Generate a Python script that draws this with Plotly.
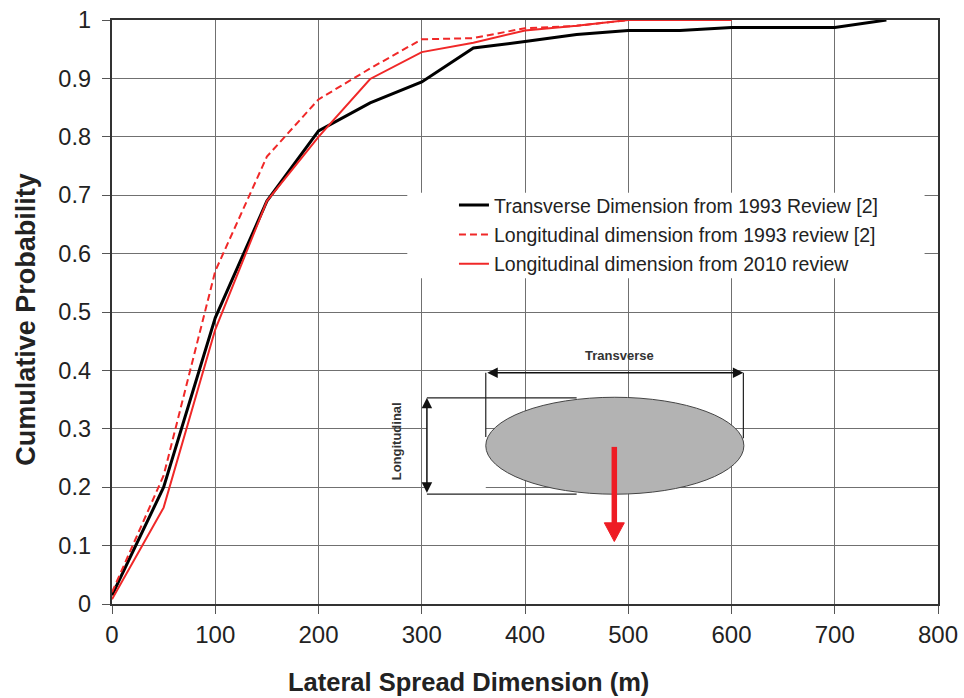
import plotly.graph_objects as go

# ---------------- data ----------------
x_transverse_1993 = [0, 50, 100, 150, 200, 250, 300, 350, 400, 450, 500, 550, 600, 650, 700, 750]
p_transverse_1993 = [0.015, 0.20, 0.49, 0.69, 0.81, 0.858, 0.894, 0.952, 0.963, 0.975, 0.982, 0.982, 0.987, 0.987, 0.987, 1.0]

x_longitudinal_1993 = [0, 50, 100, 150, 200, 250, 300, 350, 400, 450, 500, 550, 600]
p_longitudinal_1993 = [0.02, 0.22, 0.57, 0.766, 0.864, 0.917, 0.967, 0.969, 0.986, 0.99, 1.0, 1.0, 1.0]

x_longitudinal_2010 = [0, 50, 100, 150, 200, 250, 300, 350, 400, 450, 500, 550, 600]
p_longitudinal_2010 = [0.008, 0.165, 0.47, 0.69, 0.80, 0.899, 0.945, 0.961, 0.982, 0.99, 1.0, 1.0, 1.0]

series_names = [
    "Transverse Dimension from 1993 Review [2]",
    "Longitudinal dimension from 1993 review [2]",
    "Longitudinal dimension from 2010 review",
]

x_ticks = [0, 100, 200, 300, 400, 500, 600, 700, 800]
y_ticks = [0, 0.1, 0.2, 0.3, 0.4, 0.5, 0.6, 0.7, 0.8, 0.9, 1]
y_tick_labels = ["0", "0.1", "0.2", "0.3", "0.4", "0.5", "0.6", "0.7", "0.8", "0.9", "1"]

RED = "#f02828"
FONT = "Liberation Sans, Arial, sans-serif"

fig = go.Figure()

fig.add_trace(go.Scatter(
    x=x_transverse_1993, y=p_transverse_1993, mode="lines", name=series_names[0],
    line=dict(color="black", width=3), legendgroup="a"))
fig.add_trace(go.Scatter(
    x=x_longitudinal_1993, y=p_longitudinal_1993, mode="lines", name=series_names[1],
    line=dict(color=RED, width=2, dash="7px,4px"), legendgroup="b"))
fig.add_trace(go.Scatter(
    x=x_longitudinal_2010, y=p_longitudinal_2010, mode="lines", name=series_names[2],
    line=dict(color=RED, width=2), legendgroup="c"))

shapes = []
# white legend background covering grid
shapes.append(dict(type="rect", xref="x", yref="y", x0=286, x1=787, y0=0.558, y1=0.704,
                   fillcolor="white", line=dict(width=0), layer="between"))
# white behind the longitudinal bracket
shapes.append(dict(type="rect", xref="x", yref="y", x0=305, x1=362, y0=0.188, y1=0.353,
                   fillcolor="white", line=dict(width=0), layer="between"))
# ellipse (spread area)
shapes.append(dict(type="circle", xref="x", yref="y", x0=362, x1=612, y0=0.188, y1=0.354,
                   fillcolor="#b3b3b3", line=dict(color="#444", width=1), layer="above"))
# transverse bracket verticals
shapes.append(dict(type="line", xref="x", yref="y", x0=362, x1=362, y0=0.396, y1=0.286,
                   line=dict(color="#222", width=1.2), layer="above"))
shapes.append(dict(type="line", xref="x", yref="y", x0=611.5, x1=611.5, y0=0.396, y1=0.284,
                   line=dict(color="#222", width=1.2), layer="above"))
# longitudinal bracket horizontals
shapes.append(dict(type="line", xref="x", yref="y", x0=305, x1=450, y0=0.353, y1=0.353,
                   line=dict(color="#222", width=1.2), layer="above"))
shapes.append(dict(type="line", xref="x", yref="y", x0=305, x1=450, y0=0.188, y1=0.188,
                   line=dict(color="#222", width=1.2), layer="above"))
# red movement arrow
shapes.append(dict(type="line", xref="x", yref="y", x0=486.5, x1=486.5, y0=0.269, y1=0.135,
                   line=dict(color="#ee1c24", width=5.5), layer="above"))
shapes.append(dict(type="path", xref="x", yref="y",
                   path="M 476.8,0.139 L 496.2,0.139 L 486.5,0.107 Z",
                   fillcolor="#ee1c24", line=dict(color="#ee1c24", width=1), layer="above"))

annotations = [
    # transverse double arrow
    dict(x=611.5, y=0.396, ax=362, ay=0.396, xref="x", yref="y", axref="x", ayref="y",
         text="", showarrow=True, arrowhead=2, arrowside="end+start", arrowsize=1.4,
         arrowwidth=1.5, arrowcolor="#111"),
    # longitudinal double arrow
    dict(x=305, y=0.353, ax=305, ay=0.188, xref="x", yref="y", axref="x", ayref="y",
         text="", showarrow=True, arrowhead=2, arrowside="end+start", arrowsize=1.4,
         arrowwidth=1.5, arrowcolor="#111"),
    dict(x=492, y=0.426, xref="x", yref="y", text="<b>Transverse</b>", showarrow=False,
         font=dict(family=FONT, size=13, color="#333")),
    dict(x=275.7, y=0.278, xref="x", yref="y", text="<b>Longitudinal</b>", showarrow=False,
         textangle=-90, font=dict(family=FONT, size=13, color="#333")),
    # axis titles
    dict(x=0.431, y=-0.133, xref="paper", yref="paper", yanchor="middle",
         text="<b>Lateral Spread Dimension (m)</b>", showarrow=False,
         font=dict(family=FONT, size=25.5, color="#222")),
    dict(x=-0.105, y=0.487, xref="paper", yref="paper", xanchor="center",
         text="<b>Cumulative Probability</b>", showarrow=False, textangle=-90,
         font=dict(family=FONT, size=27, color="#222")),
]

fig.update_layout(
    width=964, height=698,
    margin=dict(l=112, r=26, t=20, b=94),
    paper_bgcolor="white", plot_bgcolor="white",
    font=dict(family=FONT, color="#222"),
    shapes=shapes, annotations=annotations,
    showlegend=True,
    legend=dict(x=0.414, y=0.716, xanchor="left", yanchor="top",
                bgcolor="rgba(0,0,0,0)", borderwidth=0,
                font=dict(family=FONT, size=19.5, color="#222"),
                tracegroupgap=1),
)

fig.update_xaxes(
    range=[0, 800], tickvals=x_ticks, ticktext=[str(v) for v in x_ticks],
    showgrid=True, gridcolor="#707070", gridwidth=1,
    showline=True, linecolor="#333", linewidth=1.5, mirror=True,
    ticks="outside", ticklen=8, tickcolor="#555", automargin=False,
    tickfont=dict(family=FONT, size=24, color="#222"), zeroline=False,
)
fig.update_yaxes(
    range=[0, 1], tickvals=y_ticks, ticktext=[t + "\u00a0" for t in y_tick_labels],
    showgrid=True, gridcolor="#707070", gridwidth=1,
    showline=True, linecolor="#333", linewidth=1.5, mirror=True,
    ticks="outside", ticklen=8, tickcolor="#555", automargin=False,
    tickfont=dict(family=FONT, size=23.5, color="#222"), zeroline=False,
)

fig.write_html("out.html")
